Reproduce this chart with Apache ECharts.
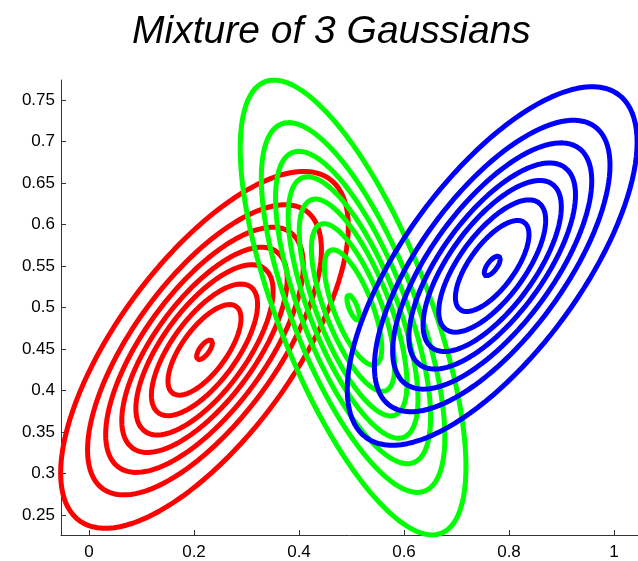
<!DOCTYPE html>
<html>
<head>
<meta charset="utf-8">
<script src="https://cdn.jsdelivr.net/npm/echarts@6/dist/echarts.min.js"></script>
<style>
  html, body { margin: 0; padding: 0; background: #fff; }
  #chart { width: 638px; height: 561px; }
</style>
</head>
<body>
<div id="chart"></div>
<script>
// one entry per gaussian component: red, green, blue
const names = ['Gaussian 1', 'Gaussian 2', 'Gaussian 3'];
const colors = ['#ff0000', '#00ff00', '#0000ff'];
const meansX = [0.22, 0.503, 0.768];
const meansY = [0.449, 0.5, 0.55];
// half-width / half-height of the outer contour and correlation
const spreadX = [0.274, 0.215, 0.276];
const spreadY = [0.215, 0.274, 0.216];
const correlation = [0.69, -0.70, 0.69];
// relative size of each contour, outermost = 1
const contourScales = [0.055, 0.254, 0.369, 0.477, 0.575, 0.687, 0.813, 1.0];

const xTicks = [0, 0.2, 0.4, 0.6, 0.8, 1];
const yTicks = [0.25, 0.3, 0.35, 0.4, 0.45, 0.5, 0.55, 0.6, 0.65, 0.7, 0.75];

const chart = echarts.init(document.getElementById('chart'));

function contour(i, k) {
  const pts = [];
  const n = 120;
  const c = Math.sqrt(1 - correlation[i] * correlation[i]);
  for (let j = 0; j <= n; j++) {
    const t = 2 * Math.PI * j / n;
    pts.push([
      meansX[i] + k * spreadX[i] * Math.cos(t),
      meansY[i] + k * spreadY[i] * (correlation[i] * Math.cos(t) + c * Math.sin(t))
    ]);
  }
  return pts;
}

const series = [];
names.forEach((name, i) => {
  contourScales.forEach(k => {
    series.push({
      name: name,
      type: 'line',
      data: contour(i, k),
      showSymbol: false,
      clip: true,
      lineStyle: { color: colors[i], width: 5, cap: 'round', join: 'round' }
    });
  });
});

const axisFont = { color: '#000', fontSize: 17, fontFamily: 'Liberation Sans' };

const option = {
  animation: false,
  title: {
    text: 'Mixture of 3 Gaussians',
    left: 127,
    top: 8,
    textStyle: { fontSize: 39, fontStyle: 'italic', fontWeight: 'normal', color: '#000', fontFamily: 'Liberation Sans' }
  },
  grid: { left: 61, right: 0, top: 80, bottom: 26 },
  xAxis: {
    type: 'value',
    min: -0.0533,
    max: 1.0457,
    splitLine: { show: false },
    axisLine: { onZero: false, lineStyle: { color: '#333', width: 1 } },
    axisTick: { inside: true, length: 5, customValues: xTicks, lineStyle: { color: '#333' } },
    axisLabel: Object.assign({ customValues: xTicks, margin: 9 }, axisFont)
  },
  yAxis: {
    type: 'value',
    min: 0.2259,
    max: 0.7741,
    splitLine: { show: false },
    axisLine: { show: true, onZero: false, lineStyle: { color: '#333', width: 1 } },
    axisTick: { show: true, inside: true, length: 5, customValues: yTicks, lineStyle: { color: '#333' } },
    axisLabel: Object.assign({ customValues: yTicks, margin: 6 }, axisFont)
  },
  series: series
};

chart.setOption(option);
</script>
</body>
</html>
